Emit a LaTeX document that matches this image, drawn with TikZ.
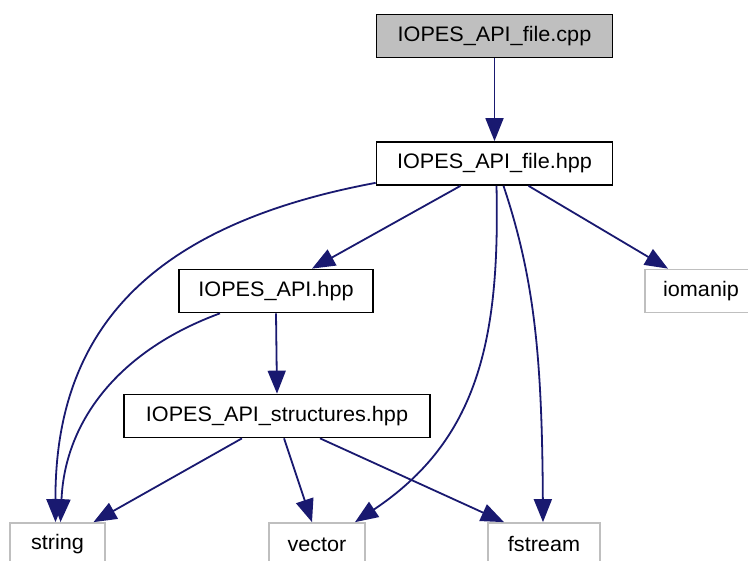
\documentclass[tikz,border=0pt]{standalone}
\usepackage{fontspec}
\setmainfont{Liberation Sans}[FakeStretch=1.03]
\usetikzlibrary{arrows.meta}
\definecolor{edgeblue}{HTML}{191970}
\definecolor{boxgray}{HTML}{BFBFBF}
\tikzset{
  filebox/.style={draw=black, line width=1.7pt, minimum height=43pt, inner sep=0pt,
    font=\fontsize{21}{24}\selectfont, text=black},
  rootbox/.style={filebox, fill=boxgray},
  sysbox/.style={filebox, draw=boxgray},
  dep/.style={draw=edgeblue, line width=1.8pt,
    -{Triangle[length=23pt,width=18pt]}},
}
\begin{document}
\begin{tikzpicture}[x=1pt,y=-1pt]
\useasboundingbox (0,0) rectangle (748,561);
\clip (0,0) rectangle (748,561);
\fill[white] (0,0) rectangle (748,561);

% files of the project
\node[rootbox, minimum width=236pt] (cpp) at (494.5,36) {IOPES\_API\_file.cpp};
\node[filebox, minimum width=236pt] (hpp) at (494.5,163.5) {IOPES\_API\_file.hpp};
\node[filebox, minimum width=194pt] (api) at (276,291) {IOPES\_API.hpp};
\node[filebox, minimum width=306pt] (str) at (277,416) {IOPES\_API\_structures.hpp};

% system headers
\node[sysbox, minimum width=112pt] (iomanip) at (701,291) {iomanip};
\node[sysbox, minimum width=95pt] (string) at (57.5,544.5) {string};
\node[sysbox, minimum width=96pt] (vector) at (317,544.5) {vector};
\node[sysbox, minimum width=112pt] (fstream) at (544,544.5) {fstream};

% include edges
\draw[dep] (cpp.south) -- (hpp.north);
\draw[dep] ([yshift=3pt]hpp.south west) .. controls (150,225) and (55,330) .. ([xshift=-2pt]string.north);
\draw[dep] ([xshift=-34pt]hpp.south) -- ([xshift=36pt]api.north);
\draw[dep] ([xshift=2pt]hpp.south) .. controls (500,340) and (478,440) .. ([xshift=38pt]vector.north);
\draw[dep] ([xshift=9pt]hpp.south) .. controls (535,280) and (542,360) .. ([xshift=-1pt]fstream.north);
\draw[dep] ([xshift=34pt]hpp.south) -- ([xshift=-33pt]iomanip.north);
\draw[dep] ([xshift=-56pt]api.south) .. controls (120,350) and (65,420) .. ([xshift=3pt]string.north);
\draw[dep] (api.south) -- (str.north);
\draw[dep] ([xshift=-35pt]str.south) -- ([xshift=36pt]string.north);
\draw[dep] ([xshift=7pt]str.south) -- ([xshift=-5pt]vector.north);
\draw[dep] ([xshift=43pt]str.south) -- ([xshift=-40pt]fstream.north);
\end{tikzpicture}
\end{document}
